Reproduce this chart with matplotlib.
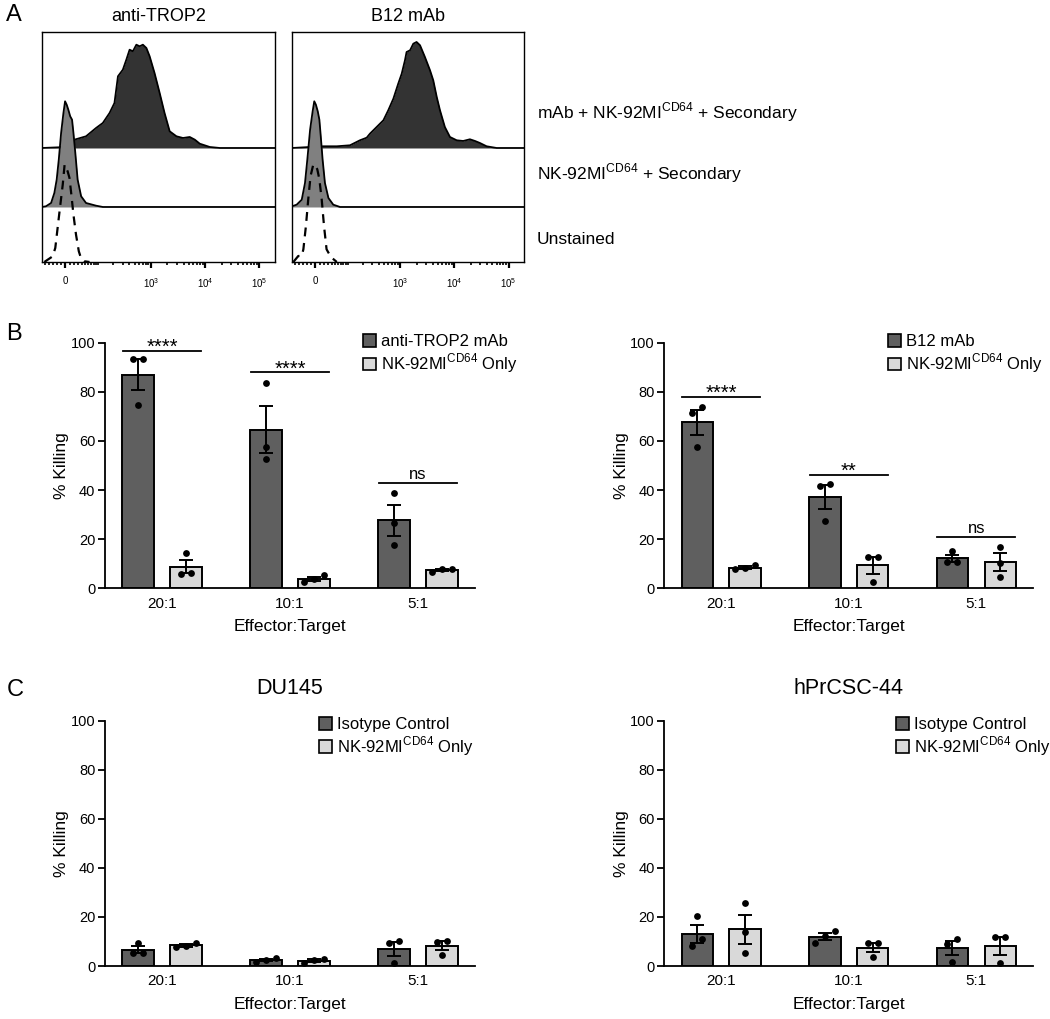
import numpy as np
import matplotlib.pyplot as plt
from matplotlib.patches import Patch

plt.rcParams['font.family'] = ['Liberation Sans', 'DejaVu Sans']
plt.rcParams['mathtext.fontset'] = 'custom'
plt.rcParams['mathtext.rm'] = 'Liberation Sans'
plt.rcParams['axes.linewidth'] = 1.3

# ---------------- Panel A: flow histograms (channel position 0-1, event height) ----------------
trop2_stained_x = [0, .075, .139, .189, .232, .261, .290, .311, .326, .347, .362, .376, .390, .405, .419,
                   .433, .448, .462, .483, .505, .526, .548, .577, .605, .634, .656, .677, .720, .763, 1.0]
trop2_stained_h = [0, .7, 8.3, 11.7, 20, 25, 35, 45, 71.7, 78.3, 88.3, 98.3, 96.7, 103.3, 101.7,
                   103.3, 100, 91.7, 75, 55, 35, 16.7, 11.7, 10, 11, 8.3, 4.3, 1, 0, 0]
trop2_secondary_x = [0, .017, .039, .053, .063, .072, .082, .092, .099, .106, .113, .121, .129, .135,
                     .143, .153, .168, .189, .232, .261, 1.0]
trop2_secondary_h = [0, .7, 4, 14, 27.3, 47.3, 74, 94, 105.7, 102.3, 97.3, 90.7, 87.3, 74,
                     54, 27.3, 10.7, 4, 1.3, 0, 0]
trop2_unstained_x = [.010, .031, .046, .057, .067, .077, .089, .097, .103, .110, .118, .126, .135,
                     .146, .158, .168, .182, .204]
trop2_unstained_h = [0, 3.3, 5.7, 14, 34, 54, 77.3, 97.3, 94, 90.7, 84, 67.3, 47.3,
                     27.3, 10.7, 3.3, .7, 0]

b12_stained_x = [0, .135, .193, .25, .293, .322, .336, .365, .394, .415, .437, .458, .473, .487, .494,
                 .509, .523, .537, .552, .573, .595, .609, .624, .638, .659, .681, .710, .738, .767,
                 .789, .810, .839, .882, 1.0]
b12_stained_h = [0, 1.7, 1.7, 2.7, 7.7, 10.3, 14.3, 21, 27.7, 37.7, 49.3, 64.3, 74.3, 87.7, 96,
                 97.7, 104.3, 106, 102.7, 91, 77.7, 67.7, 51, 37.7, 21, 11, 7.7, 7, 8.7,
                 7, 5, 1.7, 0, 0]
b12_secondary_x = [0, .020, .042, .056, .066, .078, .089, .096, .103, .111, .118, .124, .132, .142,
                   .157, .178, .207, 1.0]
b12_secondary_h = [.7, 2.3, 7.3, 24, 47.3, 77.3, 95.7, 105.7, 102.3, 95.7, 87.3, 70.7, 47.3, 24,
                   9, 2.3, 0, 0]
b12_unstained_x = [.006, .027, .042, .049, .060, .070, .080, .092, .101, .109, .118, .128, .138,
                   .149, .161, .171, .193]
b12_unstained_h = [0, 6, 6, 12.7, 36, 62.7, 86, 97.7, 96, 92.7, 82.7, 62.7, 36,
                   12.7, 7.7, 4.3, 0]

row_labels = ['mAb + NK-92MI$^{\\mathregular{CD64}}$ + Secondary',
              'NK-92MI$^{\\mathregular{CD64}}$ + Secondary',
              'Unstained']
axis_values = [0, 1e3, 1e4, 1e5]
axis_labels = ['0', '10$^{\\mathregular{3}}$', '10$^{\\mathregular{4}}$', '10$^{\\mathregular{5}}$']

# ---------------- Panels B and C: % killing replicates ----------------
ratios = ['20:1', '10:1', '5:1']
trop2_mab_reps = [[93.2, 93.2, 74.6], [83.4, 57.7, 52.6], [38.7, 26.5, 17.6]]
trop2_nk_reps = [[14.2, 5.7, 6.4], [5.4, 2.4, 3.7], [6.8, 7.7, 7.7]]
trop2_sig = [('****', 96.7), ('****', 87.9), ('ns', 43)]

b12_mab_reps = [[73.7, 71.2, 57.7], [42.3, 41.7, 27.4], [15.2, 10.6, 10.6]]
b12_nk_reps = [[7.7, 9.5, 8.1], [12.9, 12.6, 2.4], [17.0, 10.2, 4.5]]
b12_sig = [('****', 78), ('**', 46), ('ns', 21)]

du145_iso_reps = [[9.5, 5.2, 5.2], [1.8, 3.4, 2.4], [10.2, 9.2, 1.1]]
du145_nk_reps = [[7.6, 9.5, 8.2], [1.1, 2.9, 2.4], [10.2, 9.9, 4.5]]

hpr_iso_reps = [[20.4, 10.9, 8.2], [14.3, 12.2, 9.5], [10.9, 9.0, 1.8]]
hpr_nk_reps = [[25.5, 14.0, 5.2], [9.2, 9.2, 3.8], [12.0, 11.7, 1.1]]

nk_label = 'NK-92MI$^{\\mathregular{CD64}}$ Only'
DARK = '#5f5f5f'
LIGHT = '#d9d9d9'


def channel(v):
    # biexponential-like display axis
    return 0.10 + 0.1012 * np.arcsinh(np.asarray(v, float) / 53.0)


def draw_hist(ax, title, stained, secondary, unstained):
    sx, sh = stained
    ax.fill_between(sx, 114, 114 + np.array(sh), color='#333333', lw=0, zorder=1)
    ax.plot(sx, 114 + np.array(sh), color='black', lw=1.3, zorder=1.5)
    gx, gh = secondary
    ax.fill_between(gx, 55, 55 + np.array(gh), color='#808080', lw=0, zorder=2)
    ax.plot(gx, 55 + np.array(gh), color='black', lw=1.3, zorder=2.5)
    ux, uh = unstained
    ax.plot(ux, uh, color='black', lw=1.6, ls=(0, (4, 3)), zorder=3)
    ax.set_xlim(0, 1)
    ax.set_ylim(0, 230)
    ax.set_yticks([])
    ax.set_xticks(channel(axis_values))
    ax.set_xticklabels(axis_labels, fontsize=7)
    minor = np.concatenate([np.arange(-50, 0, 10), np.arange(10, 100, 10), np.arange(100, 1000, 100),
                            np.arange(1000, 10000, 1000), np.arange(10000, 100000, 10000), [2e5]])
    mpos = channel(minor)
    ax.set_xticks(mpos[(mpos > 0) & (mpos < 1)], minor=True)
    ax.tick_params(axis='x', which='major', length=4, width=1.6, pad=6)
    ax.tick_params(axis='x', which='minor', length=2.5, width=1.2)
    for s in ax.spines.values():
        s.set_linewidth(1)
    ax.set_title(title, fontsize=13, pad=8)


def swarm(vals, thresh=3.2, step=0.078):
    vals = np.asarray(vals, float)
    order = np.argsort(vals)
    offs = np.zeros(len(vals))
    clusters, cur = [], [order[0]]
    for a, b in zip(order[:-1], order[1:]):
        if vals[b] - vals[a] < thresh:
            cur.append(b)
        else:
            clusters.append(cur)
            cur = [b]
    clusters.append(cur)
    for c in clusters:
        for k, idx in enumerate(c):
            offs[idx] = (k - (len(c) - 1) / 2) * step
    return offs


def draw_bars(ax, dark_reps, light_reps, dark_label, legend_xy, sig=None, title=None):
    for reps_list, off, color in [(dark_reps, -0.1875, DARK), (light_reps, 0.1875, LIGHT)]:
        for i, reps in enumerate(reps_list):
            reps = np.asarray(reps)
            m = reps.mean()
            sem = reps.std(ddof=1) / np.sqrt(len(reps))
            ax.bar(i + off, m, 0.246, color=color, edgecolor='black', lw=1.4, zorder=2)
            ax.errorbar(i + off, m, yerr=sem, color='black', capsize=5, elinewidth=1.4,
                        capthick=1.4, zorder=3)
            ax.scatter(i + off + swarm(reps), reps, s=24, color='black', zorder=4, linewidths=0)
    if sig:
        for i, (txt, y) in enumerate(sig):
            ax.plot([i - 0.305, i + 0.305], [y, y], color='black', lw=1.3)
            if '*' in txt:
                ax.text(i, y - 0.8, txt, ha='center', va='baseline', fontsize=14.5)
            else:
                ax.text(i, y + 1.6, txt, ha='center', va='baseline', fontsize=12)
    ax.set_xlim(-0.445, 2.445)
    ax.set_ylim(0, 100)
    ax.set_yticks(range(0, 101, 20))
    ax.set_xticks(range(len(ratios)))
    ax.set_xticklabels(ratios)
    ax.tick_params(axis='y', length=5, width=1.3, labelsize=10.5, pad=2)
    ax.tick_params(axis='x', length=0, labelsize=11, pad=6)
    ax.spines['top'].set_visible(False)
    ax.spines['right'].set_visible(False)
    ax.set_ylabel('% Killing', fontsize=12.5, labelpad=1)
    ax.set_xlabel('Effector:Target', fontsize=12.5, labelpad=6)
    handles = [Patch(facecolor=DARK, edgecolor='black', lw=1.2, label=dark_label),
               Patch(facecolor=LIGHT, edgecolor='black', lw=1.2, label=nk_label)]
    ax.legend(handles=handles, loc='upper left', bbox_to_anchor=legend_xy,
              bbox_transform=ax.figure.transFigure, frameon=False, fontsize=12,
              handlelength=0.8, handleheight=0.8, handletextpad=0.3, labelspacing=0.15,
              borderpad=0, borderaxespad=0)
    if title:
        ax.set_title(title, fontsize=15.5, pad=19)


fig = plt.figure(figsize=(10.5, 10.19), dpi=100)

ax_a1 = fig.add_axes([0.040, 0.7429, 0.2219, 0.2257])
ax_a2 = fig.add_axes([0.2781, 0.7429, 0.2209, 0.2257])
draw_hist(ax_a1, 'anti-TROP2', (trop2_stained_x, trop2_stained_h),
          (trop2_secondary_x, trop2_secondary_h), (trop2_unstained_x, trop2_unstained_h))
draw_hist(ax_a2, 'B12 mAb', (b12_stained_x, b12_stained_h),
          (b12_secondary_x, b12_secondary_h), (b12_unstained_x, b12_unstained_h))
for lab, y in zip(row_labels, [0.890, 0.830, 0.7645]):
    fig.text(0.5114, y, lab, fontsize=12.5, va='center', ha='left')

ax_b1 = fig.add_axes([0.100, 0.4227, 0.3524, 0.2410])
ax_b2 = fig.add_axes([0.6327, 0.4227, 0.3513, 0.2410])
draw_bars(ax_b1, trop2_mab_reps, trop2_nk_reps, 'anti-TROP2 mAb', (0.3457, 0.6722), sig=trop2_sig)
draw_bars(ax_b2, b12_mab_reps, b12_nk_reps, 'B12 mAb', (0.8457, 0.6722), sig=b12_sig)

ax_c1 = fig.add_axes([0.100, 0.0520, 0.3524, 0.2407])
ax_c2 = fig.add_axes([0.6327, 0.0520, 0.3513, 0.2407])
draw_bars(ax_c1, du145_iso_reps, du145_nk_reps, 'Isotype Control', (0.3038, 0.2964), title='DU145')
draw_bars(ax_c2, hpr_iso_reps, hpr_nk_reps, 'Isotype Control', (0.8533, 0.2964), title='hPrCSC-44')

for letter, y in [('A', 0.985), ('B', 0.672), ('C', 0.323)]:
    fig.text(0.006, y, letter, fontsize=17, va='center', ha='left')

fig.savefig('out.png', dpi=100)
